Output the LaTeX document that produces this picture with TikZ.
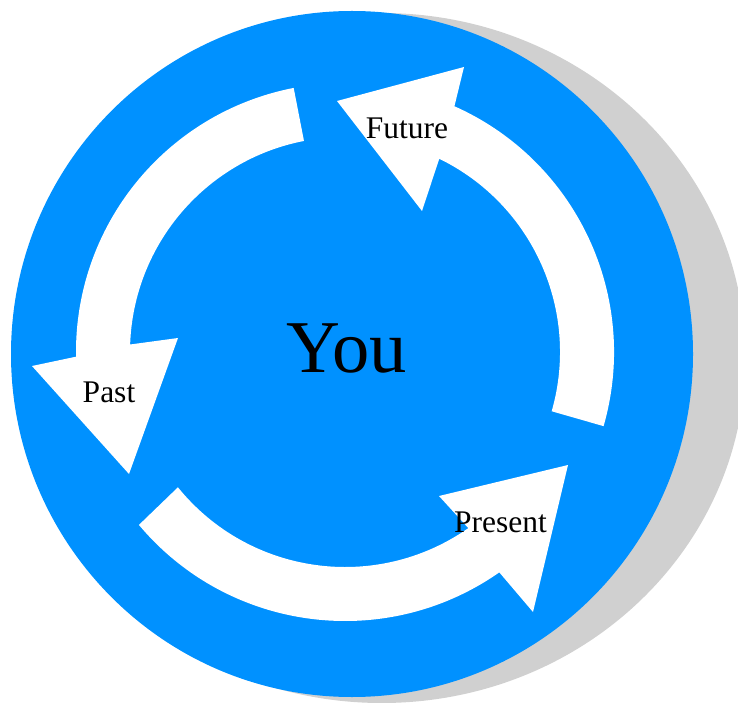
\documentclass[tikz,border=0pt]{standalone}
\usepackage{fontspec}
\setmainfont{Liberation Serif}
\definecolor{ringblue}{RGB}{0,145,255}
\definecolor{shadowgray}{RGB}{208,208,208}
\begin{document}
\begin{tikzpicture}[x=1pt,y=1pt,
  arrowshape/.style={fill=white,draw=none},
  lbl/.style={anchor=base,inner sep=0pt,font=\fontsize{31.5}{36}\selectfont},
  center text/.style={anchor=base,inner sep=0pt,font=\fontsize{74.5}{80}\selectfont}]
\useasboundingbox (0,0) rectangle (738,702);
\clip (0,0) rectangle (738,702);
% shadow and disc
\fill[shadowgray] (381.7,344) ellipse [x radius=363.7, y radius=345];
\fill[ringblue] (352,348) ellipse [x radius=341, y radius=343];
% Future arrow (right -> top)
\fill[arrowshape] ([shift={(345,350)}]-16:215) -- ([shift={(345,350)}]-16:269)
  arc[start angle=-16,end angle=66,radius=269]
  -- (464,635) -- (337,601) -- (422,491)
  -- ([shift={(345,350)}]64:215)
  arc[start angle=64,end angle=-16,radius=215] -- cycle;
% Past arrow (top -> left)
\fill[arrowshape] ([shift={(345,350)}]101:215) -- ([shift={(345,350)}]101:269)
  arc[start angle=101,end angle=181,radius=269]
  -- (32,336) -- (129,228) -- (178,364)
  -- ([shift={(345,350)}]178:215)
  arc[start angle=178,end angle=101,radius=215] -- cycle;
% Present arrow (bottom-left -> right)
\fill[arrowshape] ([shift={(345,350)}]219:215) -- ([shift={(345,350)}]220:269)
  arc[start angle=220,end angle=305,radius=269]
  -- (533,90) -- (568,237) -- (439,206)
  -- ([shift={(345,350)}]305:215)
  arc[start angle=305,end angle=219,radius=215] -- cycle;
% labels
\node[lbl] (future) at (407,563) {Future};
\node[lbl] (past) at (109,300) {Past};
\node[lbl] (present) at (500.5,170) {Present};
\node[center text] (you) at (346.5,330) {You};
\end{tikzpicture}
\end{document}
